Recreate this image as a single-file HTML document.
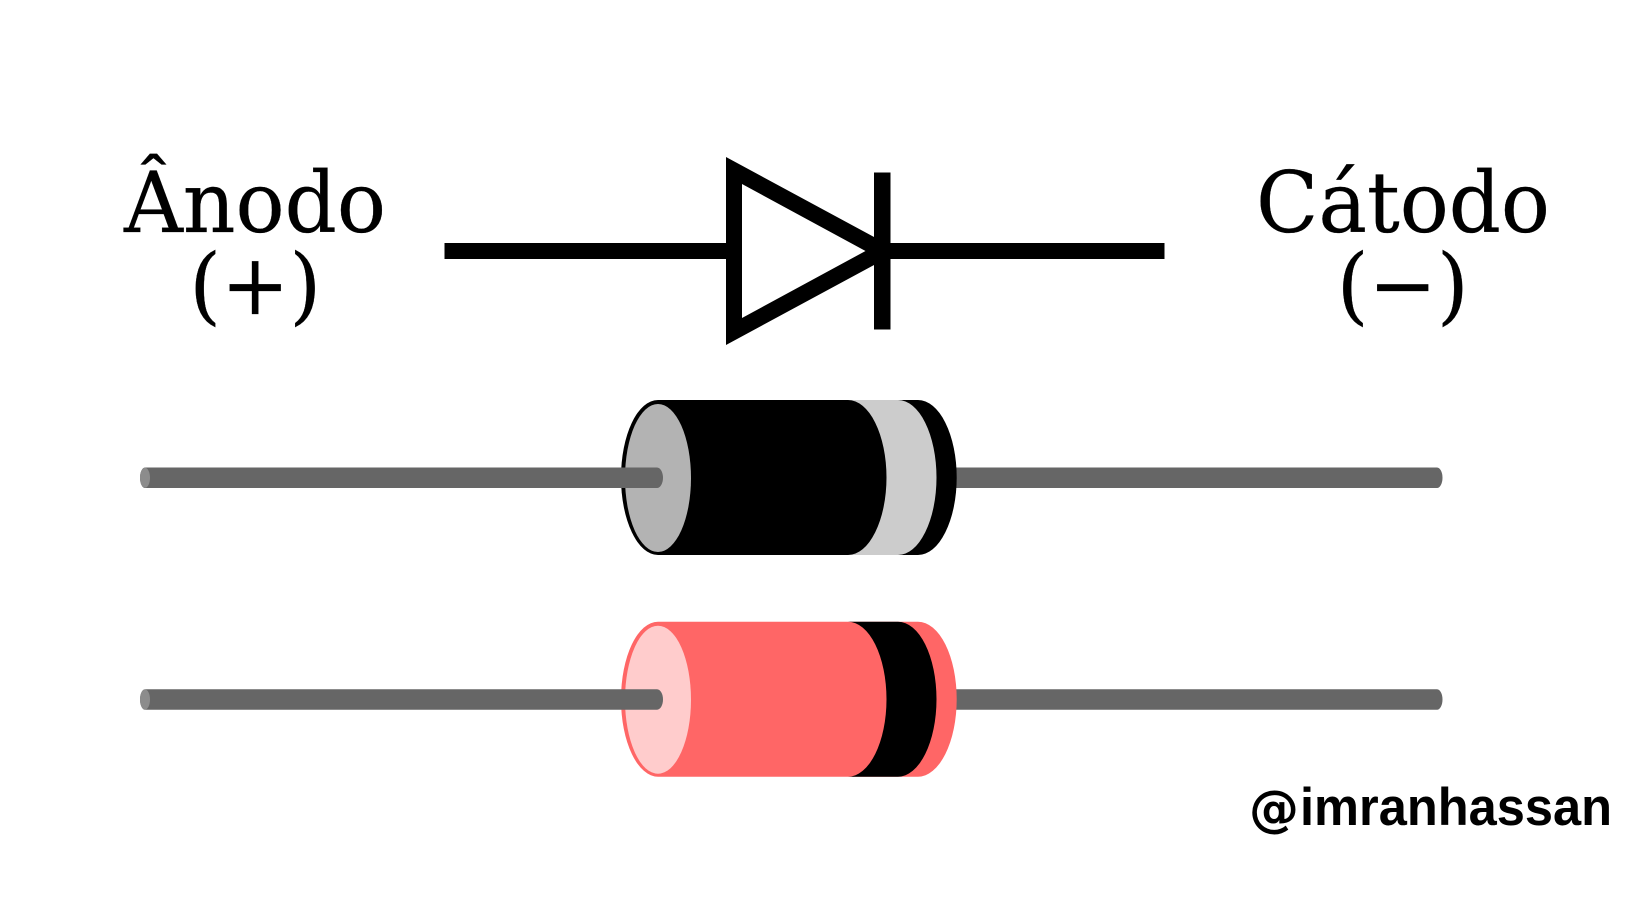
<!DOCTYPE html>
<html>
<head>
<meta charset="utf-8">
<style>
html,body{margin:0;padding:0;background:#fff;width:1640px;height:924px;overflow:hidden}
svg{display:block}
</style>
</head>
<body>
<svg xmlns="http://www.w3.org/2000/svg" width="1640" height="924" viewBox="0 0 1640 924">
<rect width="1640" height="924" fill="#fff"/>
<g font-family="'DejaVu Serif',serif" font-size="84" fill="#000" stroke="#000" stroke-width="0.3">
<text x="124" y="232" textLength="262" lengthAdjust="spacingAndGlyphs">Ânodo</text>
<text x="189.2" y="314" textLength="132" lengthAdjust="spacingAndGlyphs">(+)</text>
<text x="1256" y="232" textLength="294" lengthAdjust="spacingAndGlyphs">Cátodo</text>
<text x="1336.7" y="314" textLength="132" lengthAdjust="spacingAndGlyphs">(−)</text>
</g>
<rect x="444.5" y="243" width="290" height="16" fill="#000"/>
<rect x="880" y="243" width="284.5" height="16" fill="#000"/>
<path fill="#000" fill-rule="evenodd" d="M726,157 L900,251 L726,345 Z M742,184 V318 L865.5,251 Z"/>
<rect x="874" y="172.5" width="16.5" height="157" fill="#000"/>

<g>
<path fill="#666" d="M900,467.5 H1437 A5.5,10.25 0 0 1 1437,488 H900 Z"/>
<path fill="#000" d="M658,400 H918 A38.7,77.5 0 0 1 918,555 H658 A37,77.5 0 0 1 658,400 Z"/>
<path fill="#ccc" d="M848,400 H898 A38.5,77.5 0 0 1 898,555 H848 A38.5,77.5 0 0 0 848,400 Z"/>
<ellipse cx="658" cy="478" rx="33" ry="74" fill="#b3b3b3"/>
<path fill="#666" d="M145,467.5 H657 A6,10.25 0 0 1 657,488 H145 A5,10.25 0 0 1 145,467.5 Z"/>
<ellipse cx="145" cy="477.8" rx="5" ry="10" fill="#8c8c8c"/>
</g>

<g transform="translate(0,221.7)">
<path fill="#666" d="M900,467.5 H1437 A5.5,10.25 0 0 1 1437,488 H900 Z"/>
<path fill="#f66" d="M658,400 H918 A38.7,77.5 0 0 1 918,555 H658 A37,77.5 0 0 1 658,400 Z"/>
<path fill="#000" d="M848,400 H898 A38.5,77.5 0 0 1 898,555 H848 A38.5,77.5 0 0 0 848,400 Z"/>
<ellipse cx="658" cy="478" rx="33" ry="74" fill="#fcc"/>
<path fill="#666" d="M145,467.5 H657 A6,10.25 0 0 1 657,488 H145 A5,10.25 0 0 1 145,467.5 Z"/>
<ellipse cx="145" cy="477.8" rx="5" ry="10" fill="#8c8c8c"/>
</g>

<text x="1249" y="826" font-family="'DejaVu Sans',sans-serif" font-weight="700" font-size="50" fill="#000">@</text>
<text x="1300" y="825" font-family="'Liberation Sans',sans-serif" font-weight="700" font-size="53" fill="#000" textLength="312" lengthAdjust="spacingAndGlyphs">imranhassan</text>
</svg>
</body>
</html>
